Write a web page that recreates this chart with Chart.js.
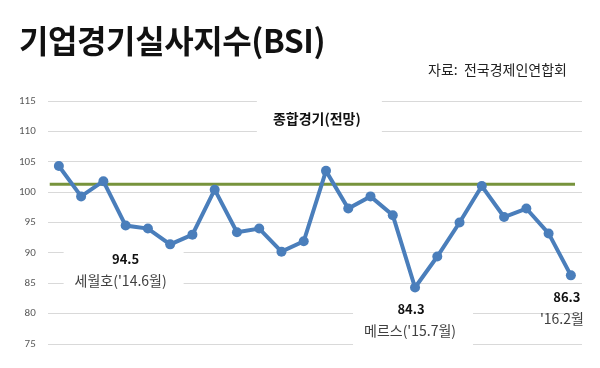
<!DOCTYPE html>
<html>
<head>
<meta charset="utf-8">
<script src="https://cdn.jsdelivr.net/npm/chart.js@4"></script>
<style>
  body { margin: 0; background: #fff; }
  #wrap { position: relative; width: 600px; height: 368px; }
  #bsi_chart { position: absolute; left: 0; top: 0; }
  .title {
    position: absolute; left: 19px; top: 16px;
    font-family: "Noto Sans CJK KR", sans-serif; font-weight: 700;
    font-size: 32px; color: #111; letter-spacing: -0.4px;
  }
  .source {
    position: absolute; left: 428px; top: 59px;
    font-family: "Noto Sans CJK KR", sans-serif;
    font-size: 14px; color: #222;
  }
</style>
</head>
<body>
<div id="wrap">
  <canvas id="bsi_chart" width="600" height="368"></canvas>
  <div class="title">기업경기실사지수(BSI)</div>
  <div class="source">자료:&nbsp; 전국경제인연합회</div>
</div>
<script>
// 월별 (2014.3 ~ 2016.2)
var months = ['14.3','14.4','14.5','14.6','14.7','14.8','14.9','14.10','14.11','14.12',
              '15.1','15.2','15.3','15.4','15.5','15.6','15.7','15.8','15.9','15.10',
              '15.11','15.12','16.1','16.2'];
// 종합경기 전망 BSI
var bsi = [104.3, 99.3, 101.8, 94.5, 94.0, 91.4, 93.0, 100.4, 93.4, 94.0,
           90.2, 91.9, 103.5, 97.3, 99.3, 96.2, 84.3, 89.4, 95.0, 101.0,
           95.9, 97.3, 93.2, 86.3];
// 녹색 기준선 (평균)
var avg_line = 101.3;
var y_ticks = [75, 80, 85, 90, 95, 100, 105, 110, 115];

// 주석: 점 index, 값, 설명
var notes = [
    { idx: 3,  value: '94.5', text: "세월호('14.6월)", box: true },
    { idx: 16, value: '84.3', text: "메르스('15.7월)", box: true },
    { idx: 23, value: '86.3', text: "'16.2월", box: false }
];
var chart_title = '종합경기(전망)';

var font_kr = '"Noto Sans CJK KR", sans-serif';

var bsi_plugin = {
    id: 'bsi_plugin',
    beforeDatasetsDraw: function(chart) {
        var ctx = chart.ctx;
        var xs = chart.scales.x, ys = chart.scales.y;
        var area = chart.chartArea;
        ctx.save();
        ctx.fillStyle = '#fff';
        // 제목 뒤 흰 박스
        var cx = (area.left + area.right) / 2;
        ctx.fillRect(cx - 58, ys.getPixelForValue(116), 125, ys.getPixelForValue(108.5) - ys.getPixelForValue(116));
        // 주석 뒤 흰 박스
        notes.forEach(function(n) {
            if (!n.box) return;
            var px = xs.getPixelForValue(n.idx);
            var py = ys.getPixelForValue(bsi[n.idx]);
            ctx.fillRect(px - 62, py + 12, 120, 56);
        });
        // 기준선
        var gy = ys.getPixelForValue(avg_line);
        ctx.strokeStyle = '#77933c';
        ctx.lineWidth = 3;
        ctx.beginPath();
        ctx.moveTo(area.left + 2, gy);
        ctx.lineTo(area.right - 7, gy);
        ctx.stroke();
        ctx.restore();
    },
    afterDatasetsDraw: function(chart) {
        var ctx = chart.ctx;
        var xs = chart.scales.x, ys = chart.scales.y;
        var area = chart.chartArea;
        ctx.save();
        ctx.textAlign = 'center';
        ctx.textBaseline = 'middle';
        ctx.fillStyle = '#111';
        ctx.font = 'bold 14px ' + font_kr;
        ctx.fillText(chart_title, (area.left + area.right) / 2 + 2, ys.getPixelForValue(112.1));
        notes.forEach(function(n) {
            var px = xs.getPixelForValue(n.idx);
            var py = ys.getPixelForValue(bsi[n.idx]);
            var off = n.idx == 3 ? 34 : 22;
            ctx.fillStyle = '#111';
            ctx.font = 'bold 13px ' + font_kr;
            ctx.fillText(n.value, px - (n.idx == 3 ? 0 : 4), py + off);
            ctx.fillStyle = '#404040';
            ctx.font = '14px ' + font_kr;
            ctx.fillText(n.text, px - (n.idx == 23 ? 9 : 5), py + off + 21);
        });
        ctx.restore();
    }
};

var bsi_chart = new Chart(document.getElementById('bsi_chart'), {
    type: 'line',
    data: {
        labels: months,
        datasets: [{
            label: chart_title,
            data: bsi,
            borderColor: '#4a7ebb',
            backgroundColor: '#4a7ebb',
            borderWidth: 4,
            pointRadius: 5,
            pointBackgroundColor: '#4a7ebb',
            pointBorderWidth: 0,
            tension: 0,
        }]
    },
    options: {
        responsive: false,
        animation: false,
        layout: {
            padding: { left: 7, right: 18, top: 101, bottom: 24 }
        },
        plugins: {
            legend: { display: false },
            tooltip: { enabled: false },
        },
        scales: {
            x: {
                display: false,
                offset: true,
            },
            y: {
                min: 75,
                max: 115,
                afterBuildTicks: function(axis) {
                    axis.ticks = y_ticks.map(function(v) { return { value: v }; });
                },
                ticks: {
                    color: '#595959',
                    font: { size: 11, family: 'Calibri, "Liberation Sans", sans-serif' },
                    padding: 12,
                },
                grid: {
                    color: '#d9d9d9',
                    lineWidth: 1,
                    drawTicks: false,
                },
                border: { display: false },
            }
        }
    },
    plugins: [bsi_plugin]
});
</script>
</body>
</html>
